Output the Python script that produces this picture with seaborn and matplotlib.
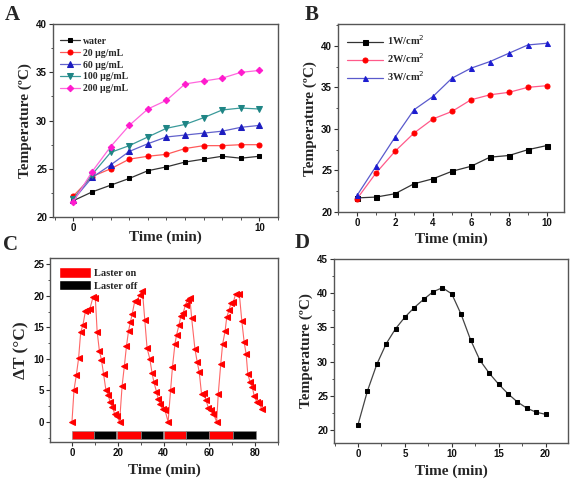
"""
plot.py - four-panel photothermal heating figure (A-D) redrawn with seaborn.
"""

import numpy as np
import pandas as pd
import matplotlib.pyplot as plt
import seaborn as sns
from matplotlib.patches import Patch
from matplotlib.ticker import MultipleLocator

# ---- Panel A: concentration series ----
TIME_A = [0, 1, 2, 3, 4, 5, 6, 7, 8, 9, 10]
A_LABELS = ['water', '20 \u03bcg/mL', '60 \u03bcg/mL', '100 \u03bcg/mL', '200 \u03bcg/mL']
A_WATER = [21.7, 22.6, 23.3, 24.0, 24.8, 25.2, 25.7, 26.0, 26.3, 26.1, 26.3]
A_20 = [22.2, 24.2, 25.0, 26.0, 26.3, 26.5, 27.1, 27.4, 27.4, 27.5, 27.5]
A_60 = [21.8, 24.1, 25.4, 26.8, 27.6, 28.3, 28.5, 28.7, 28.9, 29.3, 29.5]
A_100 = [21.9, 24.4, 26.7, 27.4, 28.3, 29.2, 29.6, 30.3, 31.1, 31.3, 31.2]
A_200 = [21.6, 24.7, 27.3, 29.5, 31.2, 32.1, 33.8, 34.1, 34.4, 35.0, 35.2]

# ---- Panel B: power density series ----
TIME_B = [0, 1, 2, 3, 4, 5, 6, 7, 8, 9, 10]
B_LABELS = ['1W/cm$^2$', '2W/cm$^2$', '3W/cm$^2$']
B_1W = [21.7, 21.8, 22.2, 23.4, 24.0, 24.9, 25.5, 26.6, 26.8, 27.5, 28.0]
B_2W = [21.6, 24.7, 27.3, 29.5, 31.2, 32.1, 33.5, 34.1, 34.4, 35.0, 35.2]
B_3W = [22.0, 25.5, 29.0, 32.3, 33.9, 36.1, 37.3, 38.1, 39.1, 40.1, 40.3]

# ---- Panel C: on/off cycling ----
TIME_C = [0, 0.9, 1.9, 2.9, 3.8, 4.8, 5.9, 6.7, 7.8, 9.2, 10.2,
          11.0, 12.0, 12.9, 13.8, 14.8, 15.8, 16.6, 17.7, 18.7, 19.7, 20.8,
          21.9, 22.9, 23.8, 24.7, 25.5, 26.3, 27.4, 28.3, 29.6, 30.8,
          31.8, 32.8, 34.0, 35.0, 35.8, 36.9, 37.7, 38.4, 39.6, 40.6, 42.0,
          43.1, 43.9, 45.0, 45.7, 46.7, 47.6, 48.6, 49.6, 50.5, 51.5,
          52.3, 53.7, 54.7, 55.6, 56.6, 57.7, 58.5, 59.6, 60.6, 61.8, 63.2,
          63.9, 65.0, 65.8, 66.9, 67.6, 68.6, 69.5, 70.5, 71.5, 73.1,
          74.2, 75.2, 76.1, 76.8, 77.8, 78.8, 79.6, 80.7, 81.8, 82.9]
DT_C = [0, 5.1, 7.4, 10.1, 14.2, 15.4, 17.6, 17.7, 17.9, 19.8, 19.7,
        14.3, 11.2, 9.8, 7.6, 5.1, 4.3, 3.2, 2.3, 1.2, 0.9, 0,
        5.7, 8.9, 12.0, 14.4, 15.8, 17.1, 19.1, 19.0, 20.2, 20.7,
        16.2, 11.7, 10.0, 7.7, 6.3, 4.8, 3.6, 2.9, 2.0, 1.9, 0,
        5.1, 8.7, 12.4, 13.8, 15.3, 16.8, 17.3, 18.6, 19.3, 19.7,
        16.4, 11.6, 9.5, 7.9, 4.4, 4.5, 3.5, 2.2, 1.9, 1.3, 0,
        4.4, 9.2, 12.3, 14.4, 16.6, 17.7, 18.9, 19.0, 20.3, 20.3,
        16.0, 12.7, 10.7, 7.6, 6.3, 5.5, 4.1, 3.2, 3.0, 2.0]
LASER_START = [0, 9.5, 19.5, 30, 40, 50, 60, 70.5]
LASER_END = [9.5, 19.2, 30, 39.7, 50, 59.8, 70.5, 80.6]
LASER_STATE = ['on', 'off', 'on', 'off', 'on', 'off', 'on', 'off']

# ---- Panel D: heating then natural cooling ----
TIME_D = list(range(21))
TEMP_D = [20.8, 25.7, 29.6, 32.6, 34.8, 36.5, 37.9, 39.1, 40.2, 40.8,
          39.9, 36.9, 33.2, 30.2, 28.3, 26.7, 25.3, 24.1, 23.2, 22.6, 22.3]

SERIF = ['Liberation Serif', 'DejaVu Serif']
SANS = ['Liberation Sans', 'DejaVu Sans']


def style_axes(ax, xlabel, ylabel, xpad=1, yfs=11):
    ax.set_xlabel(xlabel, fontsize=11, fontweight='bold', family=SERIF, labelpad=xpad)
    ax.set_ylabel(ylabel, fontsize=yfs, fontweight='bold', family=SERIF, labelpad=3)
    for sp in ax.spines.values():
        sp.set_visible(True)
        sp.set_color('#555555')
        sp.set_linewidth(1.0)
    ax.tick_params(which='both', bottom=True, left=True, top=False, right=False,
                   direction='out')
    ax.tick_params(which='major', length=2.8, width=0.8, labelsize=7, pad=1.5,
                   colors='#333333', labelcolor='#111111')
    ax.tick_params(which='minor', length=1.8, width=0.6, colors='#333333')
    for lab in ax.get_xticklabels() + ax.get_yticklabels():
        lab.set_fontweight('bold')
        lab.set_family(SANS)
    ax.grid(False)


def main():
    sns.set_theme(style="ticks")
    plt.rcParams['font.family'] = SANS
    fig = plt.figure(figsize=(5.72, 4.83), dpi=100)

    ax_a = fig.add_axes([0.0927, 0.5507, 0.3933, 0.3993])
    ax_b = fig.add_axes([0.591, 0.561, 0.395, 0.389])
    ax_c = fig.add_axes([0.0874, 0.0849, 0.3986, 0.381])
    ax_d = fig.add_axes([0.584, 0.0828, 0.409, 0.381])

    # Panel A
    df_a = pd.DataFrame({'Time': TIME_A * 5,
                         'Temp': A_WATER + A_20 + A_60 + A_100 + A_200,
                         'Sample': np.repeat(A_LABELS, len(TIME_A))})
    a_line = ['#333333', '#ff5a5a', '#6262cc', '#3a9a9a', '#ff66dd']
    a_mark = ['#000000', '#ff0000', '#1c1cc0', '#1f8585', '#ff1acd']
    a_style = ['s', 'o', '^', 'v', 'D']
    a_size = [3.3, 3.6, 4, 4, 3.3]
    for lab, lc, mc, mk, ms in zip(A_LABELS, a_line, a_mark, a_style, a_size):
        sub = df_a[df_a['Sample'] == lab]
        sns.lineplot(data=sub, x='Time', y='Temp', ax=ax_a, color=lc, lw=0.9,
                     marker=mk, markersize=ms, markerfacecolor=mc,
                     markeredgecolor=mc, label=lab)
    ax_a.set_xlim(-1.1, 11)
    ax_a.set_ylim(20, 40)
    ax_a.set_xticks([0, 10])
    ax_a.xaxis.set_minor_locator(MultipleLocator(1))
    ax_a.yaxis.set_major_locator(MultipleLocator(5))
    ax_a.yaxis.set_minor_locator(MultipleLocator(2.5))
    style_axes(ax_a, 'Time (min)', 'Temperature (\u00baC)', xpad=-2)
    ax_a.legend(loc='upper left', frameon=False, prop={'family': SERIF, 'weight': 'bold', 'size': 7},
                handlelength=2.1, handletextpad=0.25, labelspacing=0.3,
                borderaxespad=0.3, bbox_to_anchor=(0.0, 0.97))

    # Panel B
    df_b = pd.DataFrame({'Time': TIME_B * 3,
                         'Temp': B_1W + B_2W + B_3W,
                         'Power': np.repeat(B_LABELS, len(TIME_B))})
    b_line = ['#333333', '#ff5a8a', '#5a5acc']
    b_mark = ['#000000', '#ff0000', '#1c1cd0']
    b_style = ['s', 'o', '^']
    for lab, lc, mc, mk in zip(B_LABELS, b_line, b_mark, b_style):
        sub = df_b[df_b['Power'] == lab]
        sns.lineplot(data=sub, x='Time', y='Temp', ax=ax_b, color=lc, lw=0.9,
                     marker=mk, markersize=3.6, markerfacecolor=mc,
                     markeredgecolor=mc, label=lab)
    ax_b.set_xlim(-1.0, 10.9)
    ax_b.set_ylim(20, 42.6)
    ax_b.xaxis.set_major_locator(MultipleLocator(2))
    ax_b.xaxis.set_minor_locator(MultipleLocator(1))
    ax_b.yaxis.set_major_locator(MultipleLocator(5))
    ax_b.yaxis.set_minor_locator(MultipleLocator(2.5))
    style_axes(ax_b, 'Time (min)', 'Temperature (\u00baC)', xpad=3)
    ax_b.legend(loc='upper left', frameon=False, prop={'family': SERIF, 'weight': 'bold', 'size': 7.5},
                handlelength=3.4, handletextpad=0.4, labelspacing=0.4,
                borderaxespad=0.5)

    # Panel C
    df_c = pd.DataFrame({'Time': TIME_C, 'dT': DT_C})
    sns.lineplot(data=df_c, x='Time', y='dT', ax=ax_c, color='#ff6666', lw=0.8,
                 marker='<', markersize=4.2, markerfacecolor='#ff0000',
                 markeredgecolor='#ff0000')
    state_col = {'on': '#ff0000', 'off': '#000000'}
    for s, e, st in zip(LASER_START, LASER_END, LASER_STATE):
        ax_c.bar(s, -1.3, width=e - s, bottom=-1.5, align='edge',
                 color=state_col[st], edgecolor='#888888', linewidth=0.4)
    ax_c.set_xlim(-9.6, 90)
    ax_c.set_ylim(-3.2, 26)
    ax_c.xaxis.set_major_locator(MultipleLocator(20))
    ax_c.xaxis.set_minor_locator(MultipleLocator(10))
    ax_c.yaxis.set_major_locator(MultipleLocator(5))
    ax_c.yaxis.set_minor_locator(MultipleLocator(2.5))
    style_axes(ax_c, 'Time (min)', '\u0394T (\u00b0C)', xpad=4, yfs=12.5)
    handles = [Patch(facecolor=state_col['on']), Patch(facecolor=state_col['off'])]
    ax_c.legend(handles, ['Laster on', 'Laster off'], loc='upper left', frameon=False,
                prop={'family': SERIF, 'weight': 'bold', 'size': 7.5},
                handlelength=3.0, handleheight=1.2, handletextpad=0.35,
                labelspacing=0.15, borderaxespad=0.5)

    # Panel D
    df_d = pd.DataFrame({'Time': TIME_D, 'Temp': TEMP_D})
    sns.lineplot(data=df_d, x='Time', y='Temp', ax=ax_d, color='#444444', lw=0.9,
                 marker='s', markersize=3.2, markerfacecolor='#000000',
                 markeredgecolor='#000000')
    ax_d.set_xlim(-2.56, 22.4)
    ax_d.set_ylim(18.1, 45)
    ax_d.xaxis.set_major_locator(MultipleLocator(5))
    ax_d.xaxis.set_minor_locator(MultipleLocator(2.5))
    ax_d.yaxis.set_major_locator(MultipleLocator(5))
    ax_d.yaxis.set_minor_locator(MultipleLocator(2.5))
    style_axes(ax_d, 'Time (min)', 'Temperature (\u00baC)', xpad=4)

    # Panel letters
    for txt, x, y in [('A', 0.008, 0.990), ('B', 0.532, 0.990),
                      ('C', 0.005, 0.513), ('D', 0.515, 0.517)]:
        fig.text(x, y, txt, fontsize=15, fontweight='bold', family=SERIF, va='top')

    fig.savefig('out.png', dpi=100)
    plt.close(fig)


if __name__ == '__main__':
    main()
